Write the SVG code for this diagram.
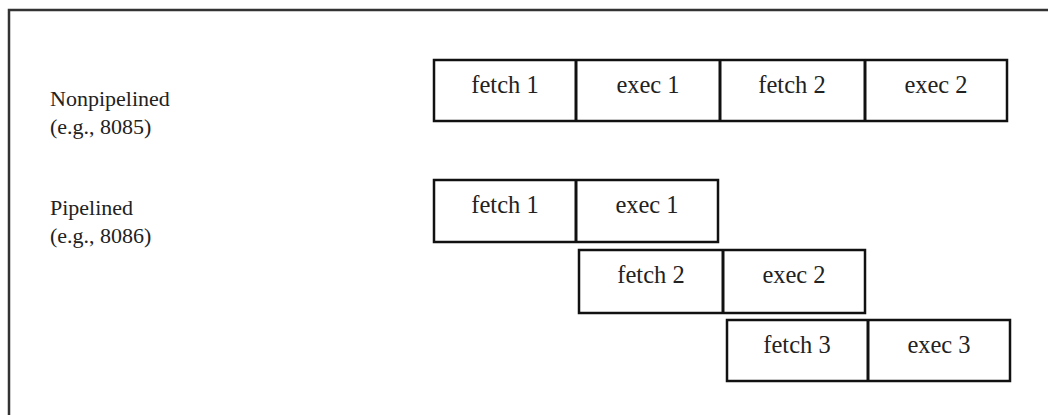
<svg xmlns="http://www.w3.org/2000/svg" width="1048" height="415" viewBox="0 0 1048 415">
<style>
.box{fill:#fff;stroke:#111;stroke-width:2.5}
.div{stroke:#111;stroke-width:3}
.t{font-family:"Liberation Serif","Times New Roman",serif;font-size:24.5px;fill:#222;text-anchor:middle}
.lbl{font-family:"Liberation Serif","Times New Roman",serif;font-size:22px;fill:#222}
.frame{fill:none;stroke:#333;stroke-width:2.5}
</style>
<rect width="1048" height="415" fill="#fff"/>
<path class="frame" d="M9,420 L9,10 L1060,10"/>
<g id="label-nonpipelined">
<text class="lbl" x="50" y="106">Nonpipelined</text>
<text class="lbl" x="50" y="134">(e.g., 8085)</text>
</g>
<g id="label-pipelined">
<text class="lbl" x="50" y="215">Pipelined</text>
<text class="lbl" x="50" y="243">(e.g., 8086)</text>
</g>
<g id="row-nonpipelined">
<rect class="box" x="434" y="60" width="573" height="61"/>
<line class="div" x1="576" y1="60" x2="576" y2="121"/>
<line class="div" x1="720" y1="60" x2="720" y2="121"/>
<line class="div" x1="865" y1="60" x2="865" y2="121"/>
<text class="t" x="505" y="93">fetch 1</text>
<text class="t" x="648" y="93">exec 1</text>
<text class="t" x="792" y="93">fetch 2</text>
<text class="t" x="936" y="93">exec 2</text>
</g>
<g id="row-pipe-1">
<rect class="box" x="434" y="180" width="284" height="62"/>
<line class="div" x1="576" y1="180" x2="576" y2="242"/>
<text class="t" x="505" y="213">fetch 1</text>
<text class="t" x="647" y="213">exec 1</text>
</g>
<g id="row-pipe-2">
<rect class="box" x="579" y="250" width="286" height="63"/>
<line class="div" x1="723" y1="250" x2="723" y2="313"/>
<text class="t" x="651" y="283">fetch 2</text>
<text class="t" x="794" y="283">exec 2</text>
</g>
<g id="row-pipe-3">
<rect class="box" x="727" y="320" width="283" height="61"/>
<line class="div" x1="868" y1="320" x2="868" y2="381"/>
<text class="t" x="797" y="353">fetch 3</text>
<text class="t" x="939" y="353">exec 3</text>
</g>
<g id="connectors"></g>
</svg>
